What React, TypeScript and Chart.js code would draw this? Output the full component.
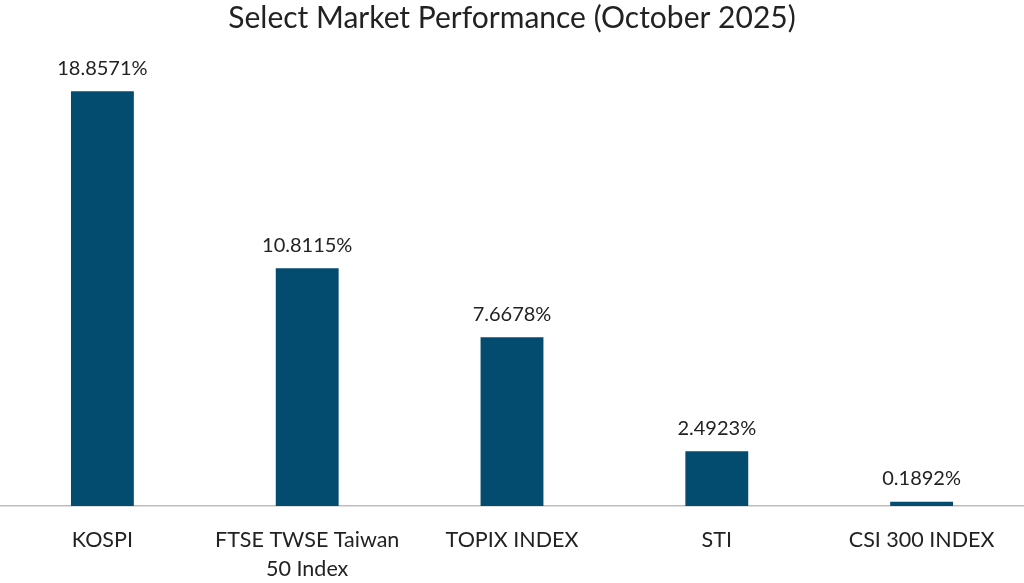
import React, { useEffect, useRef } from "react";
import { Chart, registerables } from "chart.js";

Chart.register(...registerables);

const categories: (string | string[])[] = [
  "KOSPI",
  ["FTSE TWSE Taiwan", "50 Index"],
  "TOPIX INDEX",
  "STI",
  "CSI 300 INDEX",
];
const performance: number[] = [18.8571, 10.8115, 7.6678, 2.4923, 0.1892];
const valueLabels: string[] = ["18.8571%", "10.8115%", "7.6678%", "2.4923%", "0.1892%"];

const FONT = "Lato, 'Open Sans', sans-serif";
const BAR = "#034b6f";
const TEXT = "#222222";

const labelPlugin = {
  id: "valueLabels",
  afterDatasetsDraw(chart: any) {
    const ctx = chart.ctx;
    const meta = chart.getDatasetMeta(0);
    ctx.save();
    ctx.font = `20px ${FONT}`;
    ctx.fillStyle = TEXT;
    ctx.textAlign = "center";
    ctx.textBaseline = "middle";
    meta.data.forEach((bar: any, i: number) => {
      ctx.fillText(valueLabels[i], bar.x, bar.y - 23);
    });
    ctx.restore();
  },
};

export default function App() {
  const ref = useRef<HTMLCanvasElement | null>(null);
  useEffect(() => {
    if (!ref.current) return;
    const chart = new Chart(ref.current, {
      type: "bar",
      data: {
        labels: categories as any,
        datasets: [
          {
            data: performance,
            backgroundColor: BAR,
            borderWidth: 0,
            categoryPercentage: 1,
            barPercentage: 0.307,
          },
        ],
      },
      options: {
        animation: false,
        responsive: true,
        maintainAspectRatio: false,
        layout: { padding: { left: 0, right: 0, top: 0, bottom: 0 } },
        plugins: {
          legend: { display: false },
          tooltip: { enabled: false },
          title: {
            display: true,
            text: "Select Market Performance (October 2025)",
            color: TEXT,
            font: { family: FONT, size: 30, weight: "normal", lineHeight: 1.2 },
            padding: { top: 0, bottom: 30 },
          },
        },
        scales: {
          x: {
            grid: { display: false, drawTicks: false },
            border: { display: true, color: "#bdbdbd", width: 1.5 },
            ticks: {
              color: TEXT,
              font: { family: FONT, size: 21.5, lineHeight: 1.35 },
              padding: 20,
              autoSkip: false,
              maxRotation: 0,
              minRotation: 0,
            },
            afterFit: (scale: any) => {
              scale.height = 77;
            },
          },
          y: {
            display: false,
            min: 0,
            max: 20,
          },
        },
      },
      plugins: [labelPlugin],
    });
    return () => chart.destroy();
  }, []);
  return (
    <div style={{ position: "absolute", left: 0, top: 0, width: 1024, height: 583, background: "#fff" }}>
      <canvas ref={ref} />
    </div>
  );
}
